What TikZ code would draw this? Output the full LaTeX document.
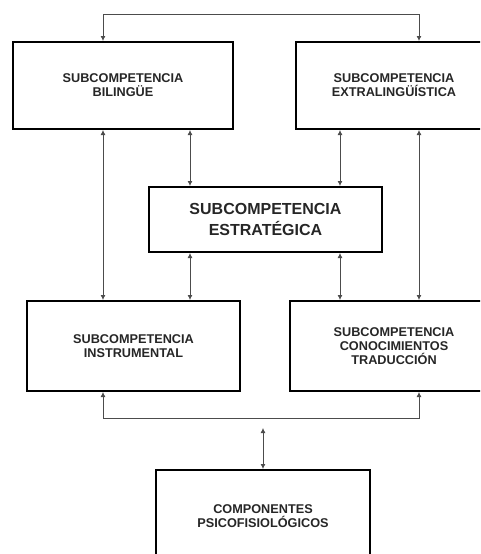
\documentclass[tikz,border=0pt]{standalone}
\usepackage{fontspec}
\setmainfont{Liberation Sans}
\usepackage{tikz}
\usetikzlibrary{arrows.meta,positioning,calc}

\begin{document}
\begin{tikzpicture}[
    x=1pt, y=-1pt,
    box/.style={rectangle, draw=black, line width=2pt, fill=white, align=center,
                text=black!85, font=\bfseries\fontsize{12.7}{14}\selectfont},
    bigbox/.style={box, font=\bfseries\fontsize{16}{21}\selectfont},
    arrow/.style={{Latex[length=5pt,width=5pt]}-{Latex[length=5pt,width=5pt]}, line width=0.8pt, black!70}
]

% Frame
\useasboundingbox (0,0) rectangle (480,554);
\clip (0,0) rectangle (480,554);

% Columns and rails
\coordinate (c1) at (103,0);
\coordinate (c2) at (190,0);
\coordinate (c3) at (340,0);
\coordinate (c4) at (419,0);
\coordinate (toprail) at (0,14);
\coordinate (botrail) at (0,418);
\coordinate (psitop) at (263,428);

% Boxes
\node[box, minimum width=220, minimum height=87] (bil) at (123,85.5) {SUBCOMPETENCIA\\BILINGÜE};
\node[box, minimum width=196, minimum height=87] (ext) at (394,85.5) {SUBCOMPETENCIA\\EXTRALINGÜÍSTICA};
\node[bigbox, minimum width=233, minimum height=65] (est) at (265.5,219.5) {SUBCOMPETENCIA\\ESTRATÉGICA};
\node[box, minimum width=213, minimum height=90] (ins) at (133.5,346) {SUBCOMPETENCIA\\INSTRUMENTAL};
\node[box, minimum width=208, minimum height=90] (con) at (394,346) {SUBCOMPETENCIA\\CONOCIMIENTOS\\TRADUCCIÓN};
\node[box, minimum width=214, minimum height=92] (psi) at (263,516) {COMPONENTES\\PSICOFISIOLÓGICOS};

% Arrows
\draw[arrow] (bil.north -| c1) -- (c1 |- toprail) -- (c4 |- toprail) -- (ext.north -| c4);
\draw[arrow] (bil.south -| c1) -- (ins.north -| c1);
\draw[arrow] (bil.south -| c2) -- (est.north -| c2);
\draw[arrow] (ext.south -| c3) -- (est.north -| c3);
\draw[arrow] (ext.south -| c4) -- (con.north -| c4);
\draw[arrow] (est.south -| c2) -- (ins.north -| c2);
\draw[arrow] (est.south -| c3) -- (con.north -| c3);
\draw[arrow] (ins.south -| c1) -- (c1 |- botrail) -- (c4 |- botrail) -- (con.south -| c4);
\draw[arrow] (psi.north) -- (psitop);

\end{tikzpicture}
\end{document}
